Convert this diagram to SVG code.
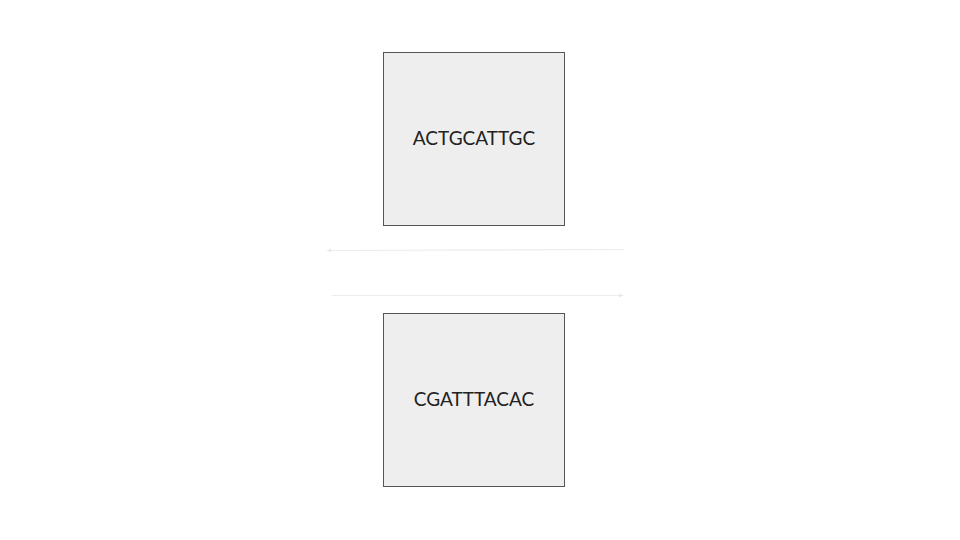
<svg xmlns="http://www.w3.org/2000/svg" width="960" height="540" viewBox="0 0 960 540">
<style>
.box{fill:#eeeeee;stroke:#555555;stroke-width:1}
.lbl{font-family:Lato,"Open Sans",sans-serif;font-size:19px;fill:#222;text-anchor:middle;dominant-baseline:central}
.conn{stroke:#ececec;stroke-width:1.2;fill:none}
</style>
<defs>
<marker id="ah" viewBox="0 0 10 10" refX="9" refY="5" markerWidth="5" markerHeight="5" orient="auto-start-reverse" markerUnits="userSpaceOnUse">
<path d="M0,1 L10,5 L0,9 z" fill="#e6e6e6"/>
</marker>
</defs>
<rect width="960" height="540" fill="#ffffff"/>
<g id="connectors">
<line class="conn" x1="624" y1="249.5" x2="327" y2="250.5" marker-end="url(#ah)"/>
<line class="conn" x1="332" y1="295.5" x2="623" y2="295.5" marker-end="url(#ah)"/>
</g>
<g id="node1">
<rect class="box" x="383.5" y="52.5" width="181" height="173"/>
<text class="lbl" x="474" y="137.5">ACTGCATTGC</text>
</g>
<g id="node2">
<rect class="box" x="383.5" y="313.5" width="181" height="173"/>
<text class="lbl" x="474" y="398.5">CGATTTACAC</text>
</g>
</svg>
